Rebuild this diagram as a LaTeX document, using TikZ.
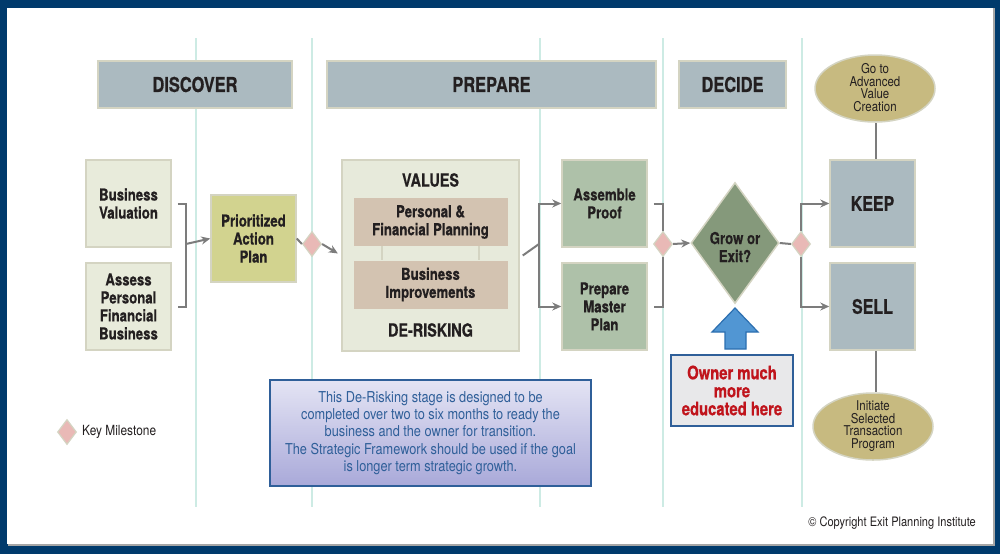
\documentclass[tikz,border=0pt]{standalone}
\usepackage{fontspec}
\setmainfont{TeX Gyre Heros}[FakeStretch=0.85, BoldFeatures={FakeStretch=0.8, FakeBold=0.6}]
\usetikzlibrary{arrows.meta,shapes.geometric}
\definecolor{navy}{HTML}{003A6C}
\definecolor{vlinec}{HTML}{CDEBE4}
\definecolor{hdrc}{HTML}{ABBAC0}
\definecolor{bordc}{HTML}{D4D4C2}
\definecolor{lightc}{HTML}{E8EBDB}
\definecolor{prioc}{HTML}{D2D38F}
\definecolor{valc}{HTML}{E7EADB}
\definecolor{tanc}{HTML}{D3C3B1}
\definecolor{greenc}{HTML}{AEC1A9}
\definecolor{msc}{HTML}{E9B9B6}
\definecolor{growc}{HTML}{85997B}
\definecolor{ellc}{HTML}{C7BA80}
\definecolor{bluearr}{HTML}{5196D3}
\definecolor{bluearrb}{HTML}{2C6FB0}
\definecolor{notec}{HTML}{2F5F99}
\definecolor{notetop}{HTML}{E4E4F4}
\definecolor{notebot}{HTML}{A9A9D9}
\definecolor{ownerfill}{HTML}{E8E8EA}
\definecolor{redc}{HTML}{C0141C}
\definecolor{txt}{HTML}{231F20}
\definecolor{connc}{HTML}{7C7C7C}
\newcommand\fsz[2]{\fontsize{#1}{#2}\selectfont}
\begin{document}
\begin{tikzpicture}[x=1pt,y=-1pt,
  box/.style={draw=bordc, line width=1.5pt, inner sep=0, align=center, text=txt,
     minimum width=85, minimum height=87, font=\bfseries\fsz{16.5}{18}},
  hdr/.style={box, fill=hdrc, minimum height=47, font=\bfseries\fsz{20.5}{22}},
  inner/.style={fill=tanc, inner sep=0, align=center, text=txt, minimum width=154,
     minimum height=48, font=\bfseries\fsz{16.5}{18}},
  lbl/.style={inner sep=0, align=center, text=txt},
  ms/.style={diamond, fill=msc, draw=bordc, line width=1.2pt, minimum width=19,
     minimum height=25, inner sep=0},
  ell/.style={ellipse, fill=ellc, draw=bordc, line width=1.5pt, minimum width=120,
     minimum height=67, inner sep=0},
  conn/.style={draw=connc, line width=2pt},
  arr/.style={conn, -{Stealth[length=9pt,width=8pt]}},
  guide/.style={draw=vlinec, line width=1.5pt}
]
\useasboundingbox (0,0) rectangle (1000,554);
\fill[navy] (0,0) rectangle (1000,554);
\fill[white] (7,8) rectangle (993,544);
\draw[gray!70, line width=1.5pt] (8,544.8) -- (993.8,544.8) -- (993.8,8);

% guide lines
\foreach \gx in {196,312,540,663,802} \draw[guide] (\gx,38) -- (\gx,507);

% headers
\node[hdr, minimum width=194] (disc) at (195,84.5) {DISCOVER};
\node[hdr, minimum width=329] (prep) at (491.5,84.5) {PREPARE};
\node[hdr, minimum width=107] (deci) at (732.5,84.5) {DECIDE};

% discover column
\node[box, fill=lightc] (bv) at (128.5,203.5) {Business\\Valuation};
\node[box, fill=lightc] (ass) at (128.5,306.5) {Assess\\Personal\\Financial\\Business};
\node[box, fill=prioc] (prio) at (253.5,238.5) {Prioritized\\Action\\Plan};

% values / de-risking
\node[box, fill=valc, minimum width=177, minimum height=191] (val) at (430.5,255.5) {};
\node[lbl, font=\bfseries\fsz{18}{20}] (valt) at (430.5,180) {VALUES};
\node[lbl, font=\bfseries\fsz{18}{20}] (drt) at (430.5,330) {DE-RISKING};
\node[inner] (pfp) at (430.5,222) {Personal \&\\Financial Planning};
\node[inner] (bi) at (430.5,284.5) {Business\\Improvements};
\draw[draw=bordc, line width=1.5pt] ([xshift=-48.5]pfp.south) -- ([xshift=-48.5]bi.north);
\draw[draw=bordc, line width=1.5pt] ([xshift=48.5]pfp.south) -- ([xshift=48.5]bi.north);

% prepare outputs
\node[box, fill=greenc] (ap) at (604.5,203.5) {Assemble\\Proof};
\node[box, fill=greenc] (pm) at (604.5,306.5) {Prepare\\Master\\Plan};

% decide
\node[diamond, fill=growc, draw=bordc, line width=1.5pt, minimum width=88, minimum height=121, inner sep=0] (grow) at (735,243) {};
\node[lbl, font=\bfseries\fsz{16.5}{18}] (growt) at (735,247) {Grow or\\Exit?};

% keep / sell
\node[box, fill=hdrc, font=\bfseries\fsz{20}{22}] (keep) at (872.5,203.5) {KEEP};
\node[box, fill=hdrc, font=\bfseries\fsz{20}{22}] (sell) at (872.5,306.5) {SELL};
\node[ell] (adv) at (875,88.5) {};
\node[lbl, font=\fsz{13.5}{12.7}] (advt) at (875,87.5) {Go to\\Advanced\\Value\\Creation};
\node[ell] (ini) at (873,426.5) {};
\node[lbl, font=\fsz{13.5}{12.7}] (init) at (873,426) {Initiate\\Selected\\Transaction\\Program};

% milestones
\node[ms] (m1) at (312,244) {};
\node[ms] (m2) at (663,244) {};
\node[ms] (m3) at (801,244) {};

% connectors
\coordinate (j1) at (186,244);
\coordinate (j2) at (539,244);
\draw[conn] ([xshift=6]bv.east) -| (j1) |- ([xshift=6]ass.east);
\draw[arr] (j1) -- (prio.west);
\draw[conn] (prio.east) -- (m1.west);
\draw[arr, shorten >=4pt] (m1.east) -- (val.west);
\draw[conn] ([xshift=3]val.east) -- (j2);
\draw[arr] (j2) |- (ap.west);
\draw[arr] (j2) |- (pm.west);
\draw[conn] ([xshift=6]ap.east) -| (m2.north);
\draw[conn] (m2.south) |- ([xshift=6]pm.east);
\draw[arr] (m2.east) -- (grow.west);
\draw[conn] (grow.east) -- (m3.west);
\draw[arr] (m3.north) |- (keep.west);
\draw[arr] (m3.south) |- (sell.west);
\draw[conn] (adv.south -| 876,0) -- (keep.north -| 876,0);
\draw[conn] (sell.south -| 876,0) -- (ini.north -| 876,0);

% blue arrow
\draw[fill=bluearr, draw=bluearrb, line width=1.2pt, line join=miter]
  (725,349) -- (725,332) -- (712,332) -- (735,308) -- (758,332) -- (746,332) -- (746,349) -- cycle;

% owner box
\node[draw=notec, line width=2pt, fill=ownerfill, minimum width=122, minimum height=71,
  inner sep=0, text=redc, font=\bfseries\fsz{18.5}{18}, align=center] (own) at (732,390.5)
  {Owner much\\more\\educated here};

% note
\node[draw=notec, line width=2pt, top color=notetop, bottom color=notebot, minimum width=321,
  minimum height=106, inner sep=0, align=center, text=notec, font=\fsz{15}{17.3}] (note) at (430.5,433)
  {This De-Risking stage is designed to be\\completed over two to six months to ready the\\business and the owner for transition.\\The Strategic Framework should be used if the goal\\is longer term strategic growth.};

% legend
\node[ms] (key) at (67,432) {};
\node[lbl, anchor=west, font=\fsz{14}{15}] (keyt) at (82,432) {Key Milestone};

% copyright
\node[lbl, anchor=east, font=\fsz{13}{15}] (copy) at (976,523) {\textcopyright{} Copyright Exit Planning Institute};
\end{tikzpicture}
\end{document}
